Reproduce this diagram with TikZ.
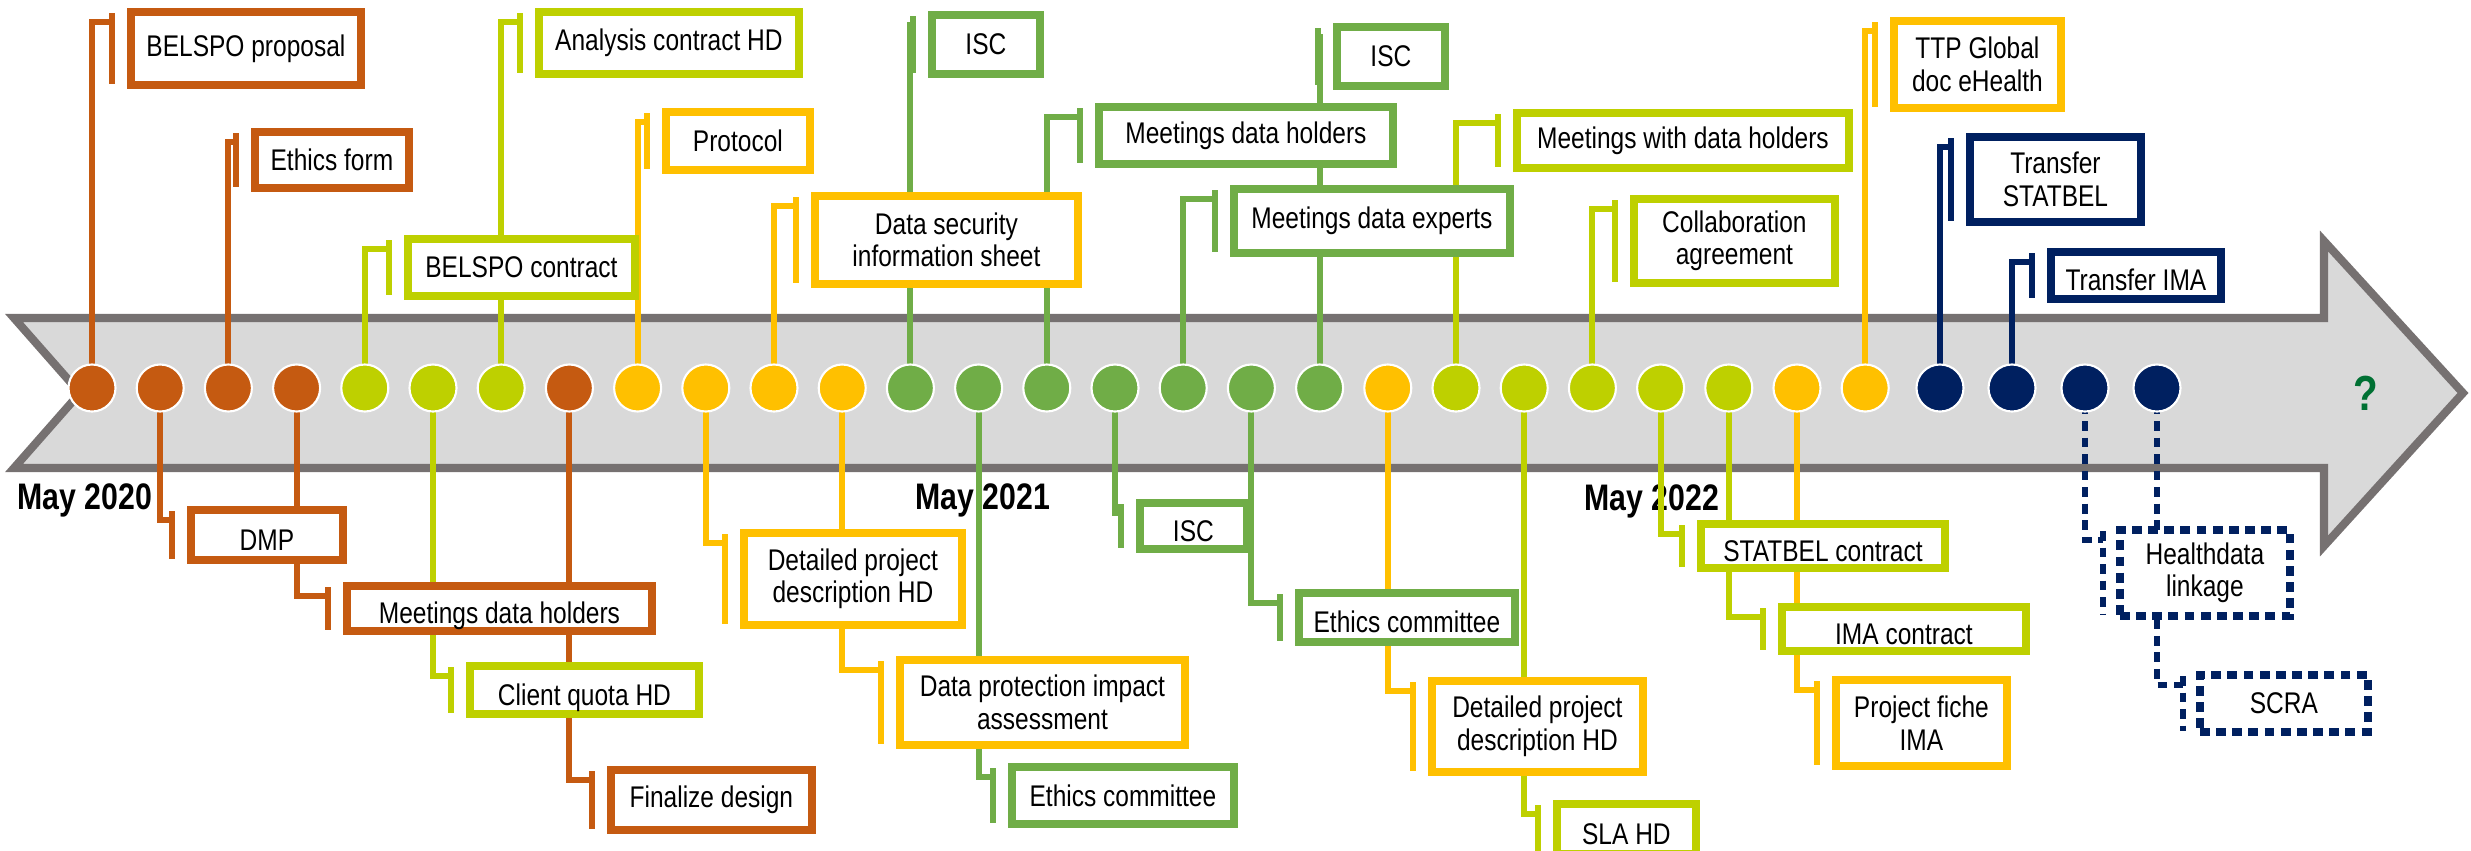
\documentclass[tikz,border=0pt]{standalone}
\usepackage{fontspec}
\setmainfont{Liberation Sans}[FakeStretch=0.82]
\usepackage{xcolor}
\usepackage{tikz}
\usetikzlibrary{calc}

\definecolor{evorange}{RGB}{197,90,17}
\definecolor{evlime}{RGB}{190,208,0}
\definecolor{evyellow}{RGB}{255,192,0}
\definecolor{evgreen}{RGB}{112,173,71}
\definecolor{evnavy}{RGB}{0,32,96}
\definecolor{arrowfill}{RGB}{217,217,217}
\definecolor{arrowedge}{RGB}{118,113,113}
\definecolor{qgreen}{RGB}{0,112,51}

\pgfdeclarelayer{arrowlayer}
\pgfdeclarelayer{linelayer}
\pgfsetlayers{arrowlayer,linelayer,main}

\tikzset{
  evdot/.style={circle, fill=#1, draw=white, line width=0.6pt, minimum size=0.47cm, inner sep=0pt},
  evbox/.style={draw=#1, fill=white, line width=2.2pt, align=center, inner sep=1pt,
    anchor=north west, font=\fontsize{8.5}{9.3}\selectfont},
  dotbox/.style={evbox=#1, dash pattern=on 2.8pt off 1.8pt},
  lowtext/.style={text height=0.31cm, text depth=0pt},
  link/.style={draw=#1, line width=1.7pt},
  dotlink/.style={link=#1, dash pattern=on 2.8pt off 1.9pt},
  monthlabel/.style={font=\bfseries\fontsize{10.5}{12}\selectfont},
}

\begin{document}
\begin{tikzpicture}[x=0.01cm, y=-0.01cm]
  \useasboundingbox (0,0) rectangle (2471,851);

  % time arrow
  \begin{pgfonlayer}{arrowlayer}
    \draw[fill=arrowfill, draw=arrowedge, line width=2.3pt]
      (14,318) -- (2324,318) -- (2324,241) -- (2463,393) -- (2324,546)
      -- (2324,468) -- (14,468) -- (80,393) -- cycle;
    \node[monthlabel] (may20) at (85,500) {May 2020};
    \node[monthlabel] (may21) at (983,500) {May 2021};
    \node[monthlabel] (may22) at (1652,501) {May 2022};
    \node[font=\bfseries\fontsize{14}{14}\selectfont, text=qgreen] (qm) at (2366,393) {?};
  \end{pgfonlayer}

  % milestones on the arrow
  \foreach \col [count=\i from 0] in {evorange,evorange,evorange,evorange,
      evlime,evlime,evlime,evorange,evyellow,evyellow,evyellow,evyellow,
      evgreen,evgreen,evgreen,evgreen,evgreen,evgreen,evgreen,evyellow,
      evlime,evlime,evlime,evlime,evlime,evyellow,evyellow}
    \node[evdot=\col] (c\i) at ({92+68.2*\i},388) {};
  \foreach \x [count=\i from 27] in {1940,2012,2085,2157}
    \node[evdot=evnavy] (c\i) at (\x,388) {};

  % boxes above the arrow
  \node[evbox=evorange, minimum width=2.30cm, minimum height=0.73cm] (bp) at (127,8) {BELSPO proposal};
  \node[evbox=evorange, minimum width=1.54cm, minimum height=0.56cm] (ef) at (251,128) {Ethics form};
  \node[evbox=evlime, minimum width=2.60cm, minimum height=0.62cm] (ach) at (535,8) {Analysis contract HD};
  \node[evbox=evlime, minimum width=2.27cm, minimum height=0.57cm] (bc) at (404,235) {BELSPO contract};
  \node[evbox=evyellow, minimum width=1.44cm, minimum height=0.58cm] (pr) at (662,108) {Protocol};
  \node[evbox=evyellow, minimum width=2.63cm, minimum height=0.88cm] (dss) at (811,192) {Data security\\information sheet};
  \node[evbox=evgreen, minimum width=1.08cm, minimum height=0.59cm] (isa) at (928,11) {ISC};
  \node[evbox=evgreen, minimum width=2.94cm, minimum height=0.57cm] (mdh) at (1095,103) {Meetings data holders};
  \node[evbox=evgreen, minimum width=2.76cm, minimum height=0.64cm] (mde) at (1230,185) {Meetings data experts};
  \node[evbox=evgreen, minimum width=1.08cm, minimum height=0.59cm] (isb) at (1333,23) {ISC};
  \node[evbox=evlime, minimum width=3.32cm, minimum height=0.55cm] (mwd) at (1513,109) {Meetings with data holders};
  \node[evbox=evlime, minimum width=2.01cm, minimum height=0.84cm] (col) at (1630,195) {Collaboration\\agreement};
  \node[evbox=evyellow, minimum width=1.67cm, minimum height=0.87cm] (ttp) at (1890,17) {TTP Global\\doc eHealth};
  \node[evbox=evnavy, minimum width=1.71cm, minimum height=0.85cm] (tst) at (1966,133) {Transfer\\STATBEL};
  \node[evbox=evnavy, lowtext, minimum width=1.70cm, minimum height=0.47cm] (tim) at (2047,248) {Transfer IMA};

  % boxes below the arrow
  \node[evbox=evorange, lowtext, minimum width=1.52cm, minimum height=0.50cm] (dmp) at (187,506) {DMP};
  \node[evbox=evorange, lowtext, minimum width=3.05cm, minimum height=0.45cm] (mdo) at (343,582) {Meetings data holders};
  \node[evbox=evlime, lowtext, minimum width=2.29cm, minimum height=0.48cm] (cq) at (466,662) {Client quota HD};
  \node[evbox=evorange, minimum width=2.01cm, minimum height=0.60cm] (fd) at (607,766) {Finalize design};
  \node[evbox=evyellow, minimum width=2.18cm, minimum height=0.92cm] (dpa) at (740,529) {Detailed project\\description HD};
  \node[evbox=evyellow, minimum width=2.85cm, minimum height=0.85cm] (dpi) at (896,656) {Data protection impact\\assessment};
  \node[evbox=evgreen, minimum width=2.22cm, minimum height=0.57cm] (eca) at (1008,763) {Ethics committee};
  \node[evbox=evgreen, lowtext, minimum width=1.07cm, minimum height=0.46cm] (isl) at (1136,499) {ISC};
  \node[evbox=evgreen, lowtext, minimum width=2.16cm, minimum height=0.49cm] (ecb) at (1295,589) {Ethics committee};
  \node[evbox=evyellow, minimum width=2.11cm, minimum height=0.91cm] (dpb) at (1428,677) {Detailed project\\description HD};
  \node[evbox=evlime, lowtext, minimum width=1.39cm, minimum height=0.50cm] (sla) at (1553,800) {SLA HD};
  \node[evbox=evlime, lowtext, minimum width=2.44cm, minimum height=0.44cm] (stc) at (1697,520) {STATBEL contract};
  \node[evbox=evlime, lowtext, minimum width=2.44cm, minimum height=0.44cm] (ima) at (1778,603) {IMA contract};
  \node[evbox=evyellow, minimum width=1.71cm, minimum height=0.86cm] (pfi) at (1832,676) {Project fiche\\IMA};
  \node[dotbox=evnavy, minimum width=1.70cm, minimum height=0.86cm] (hdl) at (2116,526) {Healthdata\\linkage};
  \node[dotbox=evnavy, minimum width=1.68cm, minimum height=0.57cm] (scr) at (2196,671) {SCRA};

  % connectors: line from milestone, jog, bar beside the box
  \begin{pgfonlayer}{linelayer}
    \foreach \c/\b/\col in {c0/bp/evorange, c2/ef/evorange, c4/bc/evlime, c6/ach/evlime,
        c8/pr/evyellow, c10/dss/evyellow, c12/isa/evgreen, c14/mdh/evgreen,
        c16/mde/evgreen, c18/isb/evgreen, c20/mwd/evlime, c22/col/evlime,
        c26/ttp/evyellow, c27/tst/evnavy, c28/tim/evnavy,
        c1/dmp/evorange, c3/mdo/evorange, c5/cq/evlime, c7/fd/evorange,
        c9/dpa/evyellow, c11/dpi/evyellow, c13/eca/evgreen, c15/isl/evgreen,
        c17/ecb/evgreen, c19/dpb/evyellow, c21/sla/evlime, c23/stc/evlime,
        c24/ima/evlime, c25/pfi/evyellow} {
      \draw[link=\col] (\c.center) |- ($(\b.north west)+(-15,14)$);
      \draw[link=\col] ($(\b.north west)+(-15,5)$) -- ($(\b.south west)+(-15,-5)$);
    }
    \foreach \c/\b in {c29/hdl, c30/scr} {
      \draw[dotlink=evnavy] (\c.center) |- ($(\b.north west)+(-13,14)$);
      \draw[dotlink=evnavy] ($(\b.north west)+(-13,5)$) -- ($(\b.south west)+(-13,-5)$);
    }
  \end{pgfonlayer}
\end{tikzpicture}
\end{document}
